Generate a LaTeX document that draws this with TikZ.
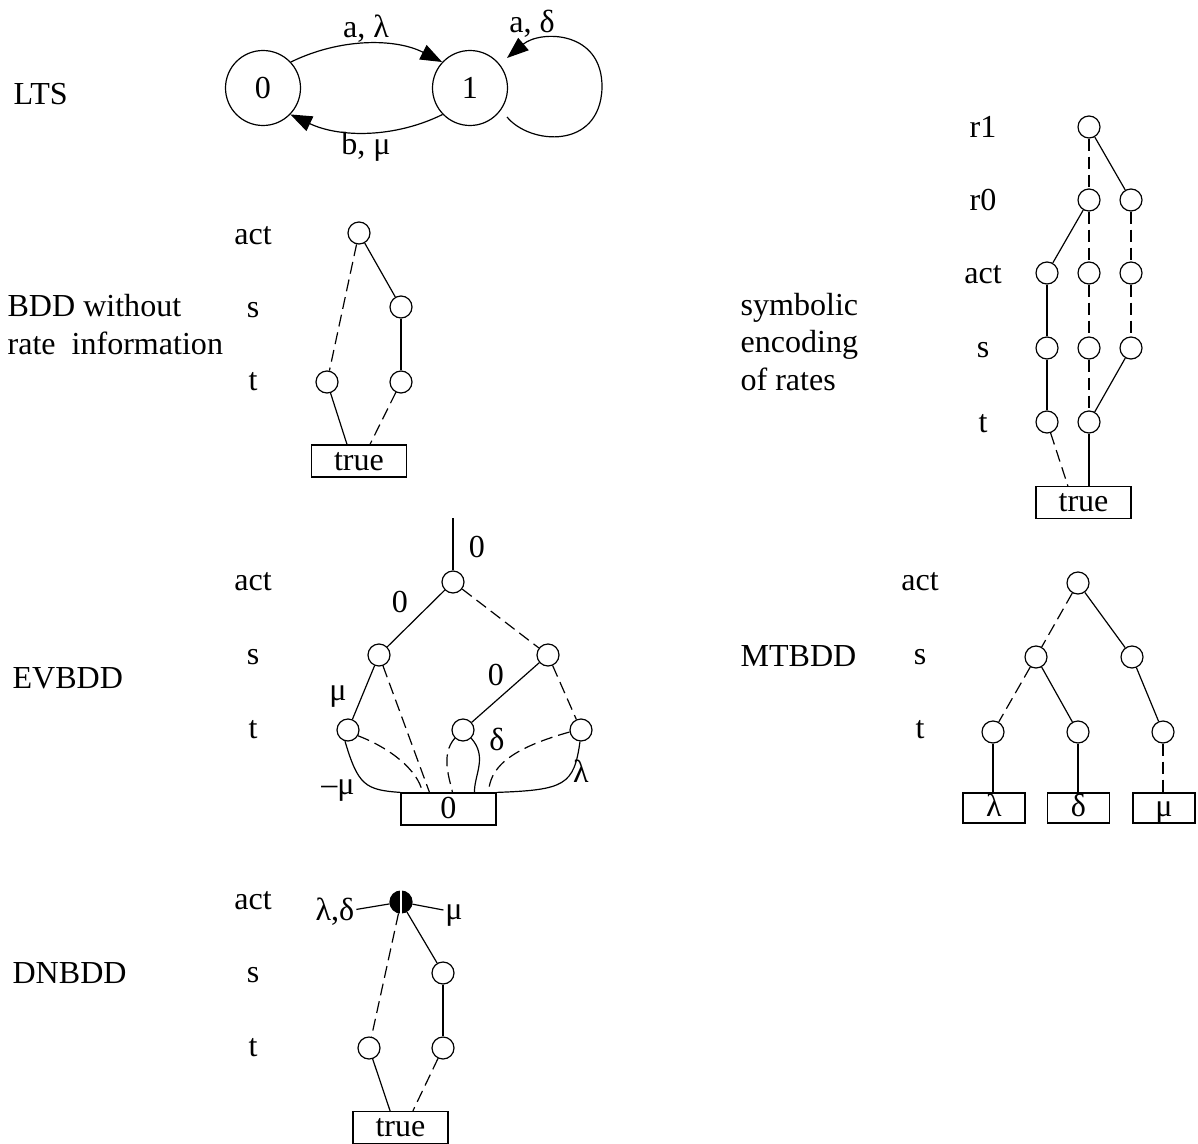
\documentclass[tikz,border=0pt]{standalone}
\usepackage{fontspec}
\setmainfont{Liberation Serif}
\usetikzlibrary{arrows.meta,calc}

\begin{document}
\begin{tikzpicture}[x=0.25mm, y=-0.25mm, line width=0.85pt,
    font=\fontsize{22.8}{26.5}\selectfont,
    bnode/.style={circle, draw, minimum size=5.5mm, inner sep=0pt},
    snode/.style={circle, draw, minimum size=18.75mm, inner sep=0pt},
    tbox/.style={draw, minimum width=23.75mm, minimum height=8mm, inner sep=0pt,
        text height=6mm, text depth=1.5mm},
    vbox/.style={draw, minimum width=15.5mm, minimum height=7.5mm, inner sep=0pt,
        text height=5.8mm, text depth=1.5mm},
    lbl/.style={inner sep=1pt, text height=5.4mm, text depth=1.8mm},
    sect/.style={anchor=base west, align=left, inner sep=0pt},
    dsh/.style={dash pattern=on 3mm off 1.5mm},
    arr/.style={-{Triangle[length=5.4mm, width=4mm]}}]
    \useasboundingbox (0,0) rectangle (1198,1144);

    % Section labels (base is the last line)
    \node[sect] (tLTS) at (13,105) {LTS};
    \node[sect] (tBDD) at (7,354) {BDD without\\rate\ \ information};
    \node[sect] (tSYM) at (740,390) {symbolic\\encoding\\of rates};
    \node[sect] (tEV) at (12,688) {EVBDD};
    \node[sect] (tMT) at (740,666) {MTBDD};
    \node[sect] (tDN) at (12,983) {DNBDD};

    % LTS
    \node[snode] (n0) at (263,88) {0};
    \node[snode] (n1) at (470,88) {1};
    \coordinate (lpA) at (507,117);
    \coordinate (lpB) at (507,58);
    \draw[arr] (n0.43) .. controls (340,38) and (395,38) .. (n1.137);
    \draw[arr] (n1.-136) .. controls (395,138) and (340,138) .. (n0.-44);
    \draw[arr] (lpA) .. controls (530,145) and (600,150) .. (602,88)
        .. controls (603,30) and (540,30) .. (lpB);
    \node[lbl] (eA) at (366,30) {a, λ};
    \node[lbl] (eB) at (366,147) {b, μ};
    \node[lbl] (eC) at (532,25) {a, δ};

    % BDD without rate information
    \node[lbl] (bact) at (253,237) {act};
    \node[lbl] (bs) at (253,310) {s};
    \node[lbl] (bt) at (253,383) {t};
    \node[bnode] (btop) at (359,233) {};
    \node[bnode] (bsr) at (401,307) {};
    \node[bnode] (btl) at (327,382) {};
    \node[bnode] (btr) at (401,382) {};
    \node[tbox] (bbox) at (359,461) {true};
    \draw[dsh] (btop) -- (btl);
    \draw (btop) -- (bsr);
    \draw (bsr) -- (btr);
    \draw (btl) -- ([xshift=-3mm]bbox.north);
    \draw[dsh] (btr) -- ([xshift=2.75mm]bbox.north);

    % Symbolic encoding of rates
    \node[lbl] (sr1) at (983,130) {r1};
    \node[lbl] (sr0) at (983,203) {r0};
    \node[lbl] (sact) at (983,276) {act};
    \node[lbl] (ss) at (983,350) {s};
    \node[lbl] (st) at (983,425) {t};
    \node[bnode] (stop) at (1089,127) {};
    \node[bnode] (sra) at (1089,200) {};
    \node[bnode] (srb) at (1131,200) {};
    \node[bnode] (saa) at (1047,273) {};
    \node[bnode] (sab) at (1089,273) {};
    \node[bnode] (sac) at (1131,273) {};
    \node[bnode] (ssa) at (1047,348) {};
    \node[bnode] (ssb) at (1089,348) {};
    \node[bnode] (ssc) at (1131,348) {};
    \node[bnode] (sta) at (1047,422) {};
    \node[bnode] (stb) at (1089,422) {};
    \node[tbox] (sbox) at (1083.5,502.5) {true};
    \draw[dsh] (stop) -- (sra);
    \draw (stop) -- (srb);
    \draw (sra) -- (saa);
    \draw[dsh] (sra) -- (sab);
    \draw[dsh] (srb) -- (sac);
    \draw (saa) -- (ssa);
    \draw[dsh] (sab) -- (ssb);
    \draw[dsh] (sac) -- (ssc);
    \draw (ssa) -- (sta);
    \draw[dsh] (ssb) -- (stb);
    \draw (ssc) -- (stb);
    \draw[dsh] (sta) -- ([xshift=-3.9mm]sbox.north);
    \draw (stb) -- (stb |- sbox.north);

    % EVBDD
    \node[lbl] (eact) at (253,583) {act};
    \node[lbl] (es) at (253,657) {s};
    \node[lbl] (et) at (253,731) {t};
    \coordinate (ein) at (453,518);
    \node[bnode] (etop) at (453,582) {};
    \node[bnode] (esl) at (379,655) {};
    \node[bnode] (esr) at (548,655) {};
    \node[bnode] (etl) at (348,730) {};
    \node[bnode] (etm) at (463,730) {};
    \node[bnode] (etr) at (581,730) {};
    \node[tbox] (ebox) at (448.5,809) {0};
    \draw (ein) -- (etop);
    \draw (etop) -- (esl);
    \draw[dsh] (etop) -- (esr);
    \draw (esl) -- (etl);
    \draw[dsh] (esl) -- ([xshift=-4.75mm]ebox.north);
    \draw (esr) -- (etm);
    \draw[dsh] (esr) -- (etr);
    \draw (etl.-105) .. controls (358,785) and (365,790) .. (ebox.north west);
    \draw[dsh] (etl.-30) .. controls (390,748) and (418,770) .. ([xshift=-6.5mm]ebox.north);
    \draw[dsh] (etm.-135) .. controls (440,755) and (450,780) .. ([xshift=1mm]ebox.north);
    \draw (etm.-45) .. controls (488,757) and (474,775) .. ([xshift=6.5mm]ebox.north);
    \draw[dsh] (etr.190) .. controls (505,750) and (490,770) .. ([xshift=10mm]ebox.north);
    \draw (etr.-95) .. controls (574,785) and (565,790) .. (ebox.north east);
    \node[lbl] (ew0) at (477,550) {0};
    \node[lbl] (ew1) at (400,605) {0};
    \node[lbl] (ew2) at (496,678) {0};
    \node[lbl] (ew3) at (338,693) {μ};
    \node[lbl] (ew4) at (338,787) {–μ};
    \node[lbl] (ew5) at (497,743) {δ};
    \node[lbl] (ew6) at (581,775) {λ};

    % MTBDD
    \node[lbl] (mact) at (920,583) {act};
    \node[lbl] (ms) at (920,657) {s};
    \node[lbl] (mt) at (920,731) {t};
    \node[bnode] (mtop) at (1078,583) {};
    \node[bnode] (msl) at (1036,657) {};
    \node[bnode] (msr) at (1132,657) {};
    \node[bnode] (mtl) at (993,732) {};
    \node[bnode] (mtm) at (1078,732) {};
    \node[bnode] (mtr) at (1163,732) {};
    \node[vbox] (mbl) at (994,808) {λ};
    \node[vbox] (mbd) at (1078.5,808) {δ};
    \node[vbox] (mbm) at (1164,808) {μ};
    \draw[dsh] (mtop) -- (msl);
    \draw (mtop) -- (msr);
    \draw[dsh] (msl) -- (mtl);
    \draw (msl) -- (mtm);
    \draw (msr) -- (mtr);
    \draw (mtl) -- (mtl |- mbl.north);
    \draw (mtm) -- (mtm |- mbd.north);
    \draw[dsh] (mtr) -- (mtr |- mbm.north);

    % DNBDD
    \node[lbl] (dact) at (253,902) {act};
    \node[lbl] (ds) at (253,975) {s};
    \node[lbl] (dt) at (253,1049) {t};
    \node[bnode, fill=black] (dtop) at (401,902) {};
    \draw[white, line width=1pt] (dtop.north) -- (dtop.south);
    \node[bnode] (dsr) at (443,973) {};
    \node[bnode] (dtl) at (369,1048) {};
    \node[bnode] (dtr) at (443,1048) {};
    \node[tbox] (dbox) at (400.5,1127.5) {true};
    \node[lbl] (dlam) at (335,913) {λ,δ};
    \node[lbl] (dmu) at (454,912) {μ};
    \draw (dlam) -- (dtop);
    \draw (dtop) -- (dmu);
    \draw[dsh] (dtop) -- (dtl);
    \draw (dtop) -- (dsr);
    \draw (dsr) -- (dtr);
    \draw (dtl) -- ([xshift=-2.6mm]dbox.north);
    \draw[dsh] (dtr) -- ([xshift=3.1mm]dbox.north);
\end{tikzpicture}
\end{document}
